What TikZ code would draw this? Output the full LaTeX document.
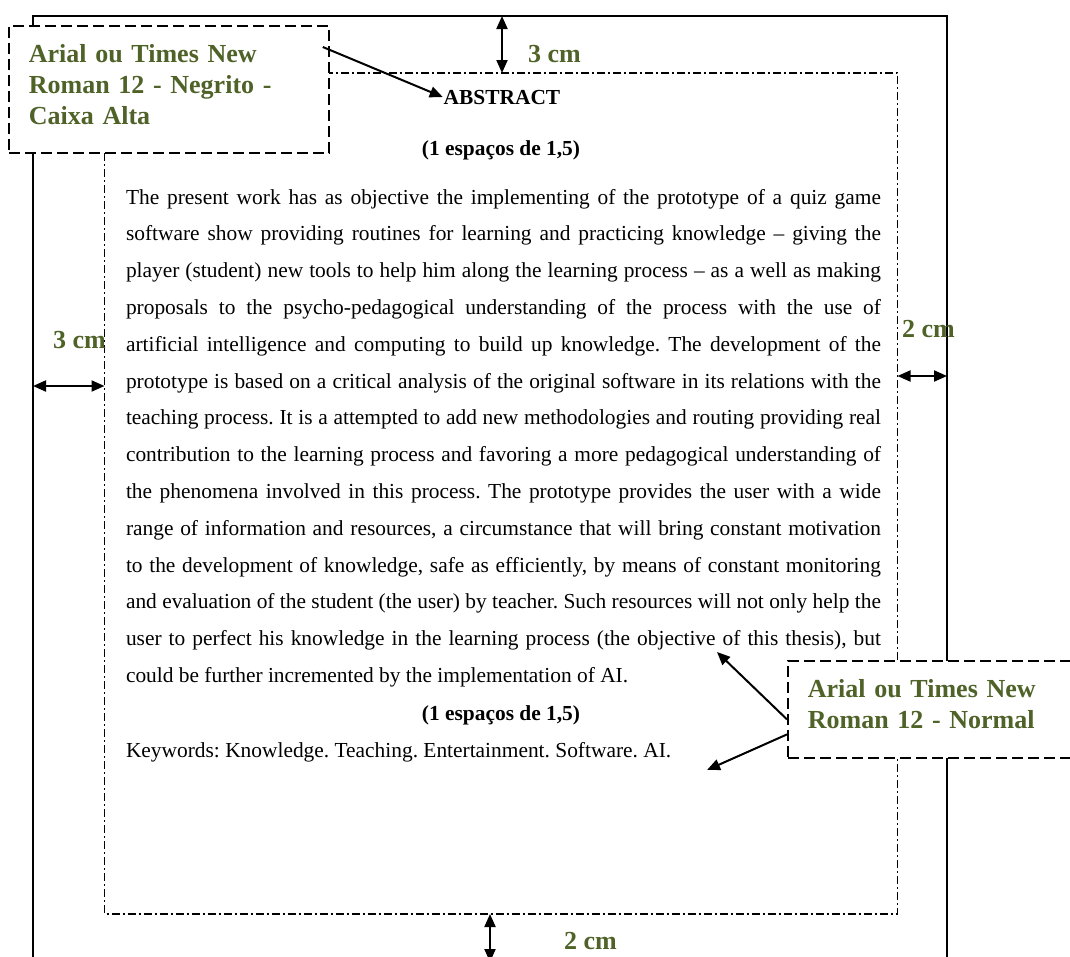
\documentclass[tikz,border=0pt]{standalone}
\usepackage{fontspec}
\setmainfont{Liberation Serif}
\usetikzlibrary{arrows.meta}
\definecolor{olivegreen}{RGB}{79,98,40}
\hyphenpenalty=10000
\exhyphenpenalty=10000
\frenchspacing

\begin{document}
\begin{tikzpicture}
    [x=1pt, y=-1pt, >={Stealth[length=13pt, width=11pt, inset=0pt]}, line width=2pt,
     page/.style={line width=2pt},
     margin/.style={line width=1.8pt, dash pattern=on 8pt off 3pt on 2pt off 3pt},
     note/.style={draw, fill=white, line width=1.8pt, dash pattern=on 11pt off 5pt,
       anchor=north west, align=left, inner xsep=20pt, text=olivegreen,
       font=\fontsize{26}{31}\selectfont\bfseries},
     size/.style={anchor=base west, inner sep=0pt, text=olivegreen,
       font=\fontsize{26}{31}\selectfont\bfseries},
     plain/.style={inner sep=0pt, font=\fontsize{21.4}{36.8}\selectfont}]

  \useasboundingbox (0,0) rectangle (1070,956);

  \draw[page] (33,965) -- (33,16) -- (947,16) -- (947,965);
  \draw[margin] (104.5,73) rectangle (897.5,914);

  \node (abs) [plain, anchor=base] at (502,104) {\textbf{ABSTRACT}};
  \node (sp1) [plain, anchor=base] at (501,155) {\textbf{(1 espaços de 1,5)}};
  \node (txt) [plain, anchor=base west, text width=755pt, align=justify] at (125,204)
    {The present work has as objective the implementing of the prototype of a quiz game\linebreak
     software show providing routines for learning and practicing knowledge – giving the\linebreak
     player (student) new tools to help him along the learning process – as a well as making\linebreak
     proposals to the psycho-pedagogical understanding of the process with the use of\linebreak
     artificial intelligence and computing to build up knowledge. The development of the\linebreak
     prototype is based on a critical analysis of the original software in its relations with the\linebreak
     teaching process. It is a attempted to add new methodologies and routing providing real\linebreak
     contribution to the learning process and favoring a more pedagogical understanding of\linebreak
     the phenomena involved in this process. The prototype provides the user with a wide\linebreak
     range of information and resources, a circumstance that will bring constant motivation\linebreak
     to the development of knowledge, safe as efficiently, by means of constant monitoring\linebreak
     and evaluation of the student (the user) by teacher. Such resources will not only help the\linebreak
     user to perfect his knowledge in the learning process (the objective of this thesis), but\linebreak
     could be further incremented by the implementation of AI.};
  \node (sp2) [plain, anchor=base] at (501,720) {\textbf{(1 espaços de 1,5)}};
  \node (kw) [plain, anchor=base west] at (125,757)
    {Keywords: Knowledge. Teaching. Entertainment. Software. AI.};

  \node (neg) [note, text width=280pt, minimum height=127pt] at (8,25)
    {Arial ou Times New\\Roman 12 - Negrito -\\Caixa Alta\rule[-9pt]{0pt}{9pt}};
  \node (nor) [note, text width=253pt, minimum height=97pt] at (787,660)
    {Arial ou Times New\\Roman 12 - Normal\rule[-10pt]{0pt}{10pt}};

  \coordinate (obj) at (717,652);
  \coordinate (kwend) at (707,770);
  \draw[->] ([shift={(-7,22)}]neg.north east) -- (abs.west);
  \draw[->] ([shift={(0,10)}]nor.west) -- (obj);
  \draw[->] ([shift={(0,25)}]nor.west) -- (kwend);

  \coordinate (T1) at (502,16);
  \coordinate (T2) at (502,73);
  \coordinate (L1) at (33,386);
  \coordinate (L2) at (104.5,386);
  \coordinate (R1) at (897.5,376);
  \coordinate (R2) at (947,376);
  \coordinate (B1) at (490,914);
  \coordinate (B2) at (490,962);
  \draw[<->] (T1) -- (T2);
  \draw[<->] (L1) -- (L2);
  \draw[<->] (R1) -- (R2);
  \draw[<->] (B1) -- (B2);

  \node (T) [size] at (527,62) {3 cm};
  \node (L) [size] at (52,348) {3 cm};
  \node (R) [size] at (901,337) {2 cm};
  \node (B) [size] at (563,949) {2 cm};
\end{tikzpicture}
\end{document}
